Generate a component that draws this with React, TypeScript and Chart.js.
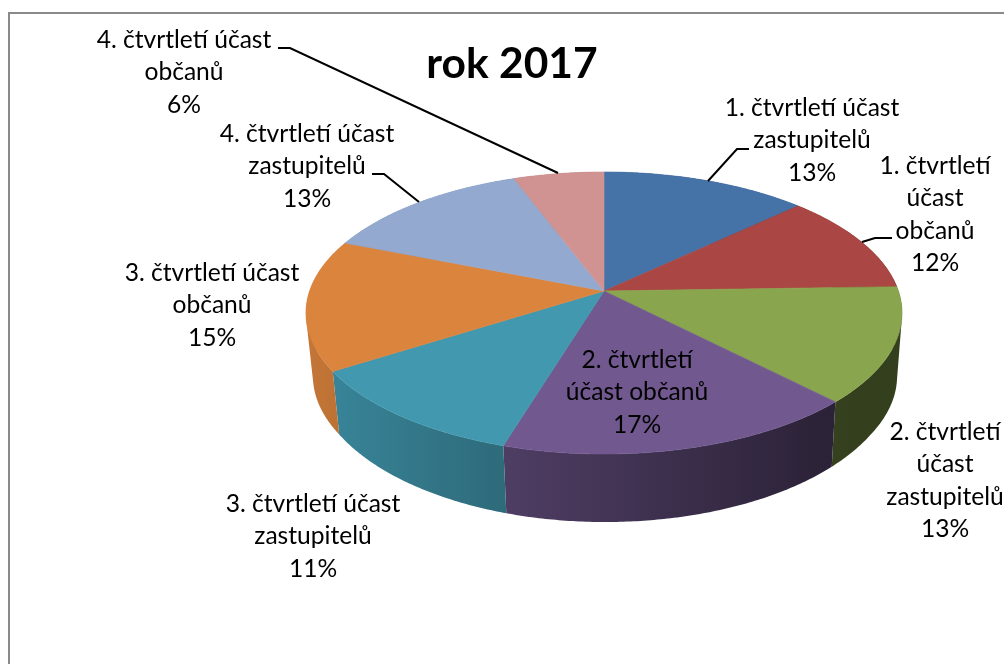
import React, { useEffect, useRef } from "react";
import { Chart, registerables } from "chart.js";

Chart.register(...registerables);

const categories = [
  "1. čtvrtletí účast zastupitelů",
  "1. čtvrtletí účast občanů",
  "2. čtvrtletí účast zastupitelů",
  "2. čtvrtletí účast občanů",
  "3. čtvrtletí účast zastupitelů",
  "3. čtvrtletí účast občanů",
  "4. čtvrtletí účast zastupitelů",
  "4. čtvrtletí účast občanů",
];
const shares = [13, 11.5, 13.2, 17, 11.3, 15, 13.3, 5.7];
const colours = ["#4572A7", "#AA4643", "#89A54E", "#71588F", "#4198AF", "#DB843D", "#93A9CF", "#D19392"];
const titleText = "rok 2017";

// how each category's name is wrapped and placed around the pie
const labelLines = [
  ["1. čtvrtletí účast", "zastupitelů"],
  ["1. čtvrtletí", "účast", "občanů"],
  ["2. čtvrtletí", "účast", "zastupitelů"],
  ["2. čtvrtletí", "účast občanů"],
  ["3. čtvrtletí účast", "zastupitelů"],
  ["3. čtvrtletí účast", "občanů"],
  ["4. čtvrtletí účast", "zastupitelů"],
  ["4. čtvrtletí účast", "občanů"],
];
const labelCentreX = [812, 935, 945, 637, 313, 212, 307, 184];
const labelFirstBaseline = [116, 174, 440, 368, 512, 281, 142, 48];
const leaderLines: number[][][] = [
  [[749, 149], [737, 149], [708, 181]],
  [[892, 238], [875, 238], [862, 242]],
  [],
  [],
  [],
  [],
  [[372, 174], [384, 174], [419, 202]],
  [[278, 48], [290, 48], [558, 173]],
];

const FONT = "Lato";
const FONT_SIZE = 24.6;
const LINE_H = 32.4;

// perspective of the tilted disc, relative to the arc radius the library computes
const TILT = 0.156;
const SCALE_X = 294.4 / 291;
const SCALE_Y = 137.6 / 291;

function shade(hex: string, f: number) {
  const n = parseInt(hex.slice(1), 16);
  const c = [(n >> 16) & 255, (n >> 8) & 255, n & 255].map((v) => Math.round(v * f));
  return `rgb(${c[0]},${c[1]},${c[2]})`;
}

const pie3d = {
  id: "pie3d",
  beforeDraw(chart: any) {
    const ctx = chart.ctx;
    ctx.save();
    ctx.fillStyle = "#ffffff";
    ctx.fillRect(0, 0, chart.width, chart.height);
    ctx.fillStyle = "#8a8a8a";
    ctx.fillRect(8, 12, 2, chart.height - 12);
    ctx.fillRect(8, 12, chart.width - 8, 2);
    ctx.restore();
  },
  beforeDatasetDraw(chart: any) {
    const ctx = chart.ctx;
    const arcs = chart.getDatasetMeta(0).data;
    const project = (a: any, ang: number) => {
      const X = Math.cos(ang);
      const Y = -Math.sin(ang);
      const w = 1 + TILT * Y;
      return [
        a.x + (a.outerRadius * SCALE_X * X) / w,
        a.y - (a.outerRadius * SCALE_Y * Y) / w,
      ];
    };
    const lower = (a: any, p: number[]) => [
      a.x + 1 + 0.98 * (p[0] - a.x),
      p[1] + Math.max(63, 63 + 0.061 * (p[1] - 372)),
    ];
    ctx.save();
    // side wall: darkens from left to right; every band joins one path so no seams show
    arcs.forEach((a: any, i: number) => {
      const x0 = 300;
      const x1 = 905;
      const g = ctx.createLinearGradient(x0, 0, x1, 0);
      for (let s = 0; s <= 12; s++) {
        const x = x0 + ((x1 - x0) * s) / 12;
        const f = Math.min(0.9, Math.max(0.38, 0.7 - (x - 503) * 0.00098));
        g.addColorStop(s / 12, shade(colours[i], f));
      }
      const n = Math.ceil((a.endAngle - a.startAngle) / 0.01);
      ctx.fillStyle = g;
      ctx.beginPath();
      for (let k = 0; k < n; k++) {
        const p0 = project(a, a.startAngle + ((a.endAngle - a.startAngle) * k) / n);
        const p1 = project(a, a.startAngle + ((a.endAngle - a.startAngle) * (k + 1)) / n);
        const q0 = lower(a, p0);
        const q1 = lower(a, p1);
        // keep every band wound the same way
        const area = (p1[0] - p0[0]) * (q0[1] - p0[1]) - (p1[1] - p0[1]) * (q0[0] - p0[0]);
        const pts = area >= 0 ? [p0, p1, q1, q0] : [p1, p0, q0, q1];
        pts.forEach((p, m) => (m ? ctx.lineTo(p[0], p[1]) : ctx.moveTo(p[0], p[1])));
        ctx.closePath();
      }
      ctx.fill();
    });
    // top face
    arcs.forEach((a: any) => {
      const col = a.options.backgroundColor;
      ctx.fillStyle = col;
      ctx.strokeStyle = col;
      ctx.lineWidth = 0.6;
      ctx.beginPath();
      ctx.moveTo(a.x, a.y);
      const n = Math.ceil((a.endAngle - a.startAngle) / 0.01);
      for (let k = 0; k <= n; k++) {
        const p = project(a, a.startAngle + ((a.endAngle - a.startAngle) * k) / n);
        ctx.lineTo(p[0], p[1]);
      }
      ctx.closePath();
      ctx.fill();
      ctx.stroke();
    });
    ctx.restore();
    return false;
  },
  afterDatasetsDraw(chart: any) {
    const ctx = chart.ctx;
    const total = shares.reduce((s, v) => s + v, 0);
    ctx.save();
    ctx.strokeStyle = "#000000";
    ctx.lineWidth = 2;
    leaderLines.forEach((pts) => {
      if (!pts.length) return;
      ctx.beginPath();
      pts.forEach((p, k) => (k ? ctx.lineTo(p[0], p[1]) : ctx.moveTo(p[0], p[1])));
      ctx.stroke();
    });
    ctx.fillStyle = "#000000";
    ctx.textAlign = "center";
    ctx.textBaseline = "alphabetic";
    ctx.font = `${FONT_SIZE}px ${FONT}`;
    labelLines.forEach((lines, i) => {
      const all = [...lines, `${Math.round((shares[i] / total) * 100)}%`];
      all.forEach((t, k) => {
        ctx.fillText(t, labelCentreX[i], labelFirstBaseline[i] + k * LINE_H);
      });
    });
    ctx.font = `bold 42.5px ${FONT}`;
    ctx.fillText(titleText, 512, 78);
    ctx.restore();
  },
};

export default function App() {
  const ref = useRef<HTMLCanvasElement | null>(null);
  useEffect(() => {
    document.body.style.margin = "0";
    const chart = new Chart(ref.current as HTMLCanvasElement, {
      type: "pie",
      data: {
        labels: categories,
        datasets: [{ data: shares, backgroundColor: colours, borderWidth: 0 }],
      },
      options: {
        animation: false,
        responsive: false,
        layout: { padding: { left: 204, top: 0, right: 0, bottom: 82 } },
        plugins: { legend: { display: false }, tooltip: { enabled: false } },
      },
      plugins: [pie3d],
    } as any);
    return () => chart.destroy();
  }, []);
  return <canvas ref={ref} width={1004} height={664} style={{ display: "block" }} />;
}
